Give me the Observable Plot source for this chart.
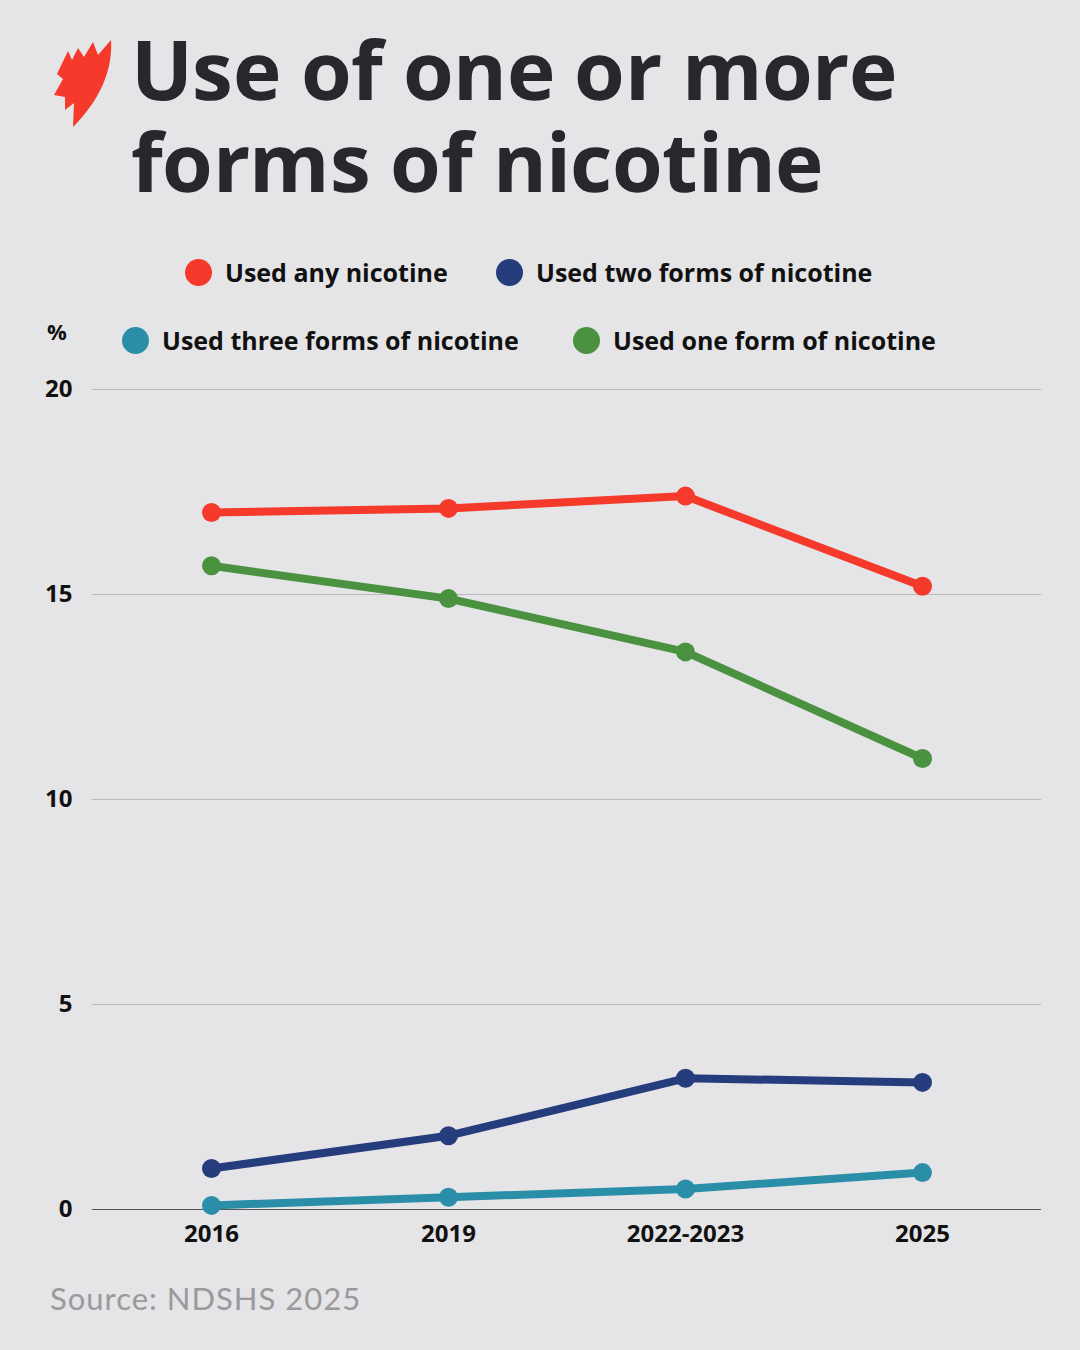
<!DOCTYPE html>
<html>
<head>
<meta charset="utf-8">
<script src="https://cdn.jsdelivr.net/npm/d3@7"></script>
<script src="https://cdn.jsdelivr.net/npm/@observablehq/plot@0.6"></script>
<style>
  @font-face {
    font-family: "TitleSans";
    src: local("Open Sans Bold"), local("OpenSans-Bold"), local("Open Sans");
    font-weight: 700;
    ascent-override: 84%;
    descent-override: 24%;
    line-gap-override: 0%;
  }
  html, body { margin: 0; padding: 0; background: #e5e4e7; }
  body { width: 1080px; height: 1350px; position: relative; overflow: hidden; font-family: "Open Sans", sans-serif; }
  .title { position: absolute; left: 131px; margin: 0; height: 90px; overflow: visible; font-family: "TitleSans", "Open Sans", sans-serif; font-weight: 700; font-size: 82px; line-height: 90px; color: #28272b; letter-spacing: -0.6px; white-space: nowrap; }
  #logo { position: absolute; left: 0; top: 0; }
  .leg { position: absolute; display: flex; align-items: center; font-weight: 700; font-size: 25px; color: #111; white-space: nowrap; }
  .leg span.dot { display: inline-block; width: 27px; height: 27px; border-radius: 50%; margin-right: 13px; }
  #pct { position: absolute; left: 47px; top: 316px; font-weight: 700; font-size: 22px; color: #111; }
  #chart { position: absolute; left: 0; top: 370px; }
  #source { position: absolute; left: 50px; top: 1279px; font-family: Lato, sans-serif; font-size: 31px; letter-spacing: 1px; color: #9a999c; white-space: nowrap; }
  #chart svg text { font-family: "Open Sans", sans-serif; }
  #chart g[aria-label="y-axis tick label"] text, #chart g[aria-label="x-axis tick label"] text { font-weight: 700; fill: #111; }
</style>
</head>
<body>
<svg id="logo" width="130" height="140">
  <path d="M111,40 C113,70 100,100 73,127 L74,103 L65,110 L65,97 L54,95 L63,79 L57,74 L68,51 L72,60 L78,48 L84,57 L93,42 L98,55 Z" fill="#f5392a"/>
</svg>
<div class="title" style="top:31px">Use of one or more</div>
<div class="title" style="top:123px">forms of nicotine</div>
<div id="legend"></div>
<div id="pct">%</div>
<div id="chart"></div>
<div id="source">Source: NDSHS 2025</div>
<script>
const periods = ["2016", "2019", "2022-2023", "2025"];
const seriesNames = ["Used any nicotine", "Used two forms of nicotine", "Used three forms of nicotine", "Used one form of nicotine"];
const seriesColors = ["#f5392a", "#253c7d", "#2b8ea8", "#4a9140"];
const anyNicotine = [17.0, 17.1, 17.4, 15.2];
const twoForms = [1.0, 1.8, 3.2, 3.1];
const threeForms = [0.1, 0.3, 0.5, 0.9];
const oneForm = [15.7, 14.9, 13.6, 11.0];
const yTicks = [0, 5, 10, 15, 20];

const seriesValues = [anyNicotine, twoForms, threeForms, oneForm];
const data = [];
seriesNames.forEach((name, i) => {
  periods.forEach((p, j) => data.push({series: name, period: p, value: seriesValues[i][j]}));
});

// Legend
const legendPos = [
  {left: 185, top: 255}, {left: 496, top: 255},
  {left: 122, top: 323}, {left: 573, top: 323}
];
const legend = document.getElementById("legend");
seriesNames.forEach((name, i) => {
  const d = document.createElement("div");
  d.className = "leg";
  d.style.left = legendPos[i].left + "px";
  d.style.top = legendPos[i].top + "px";
  d.innerHTML = `<span class="dot" style="background:${seriesColors[i]}"></span>${name}`;
  legend.appendChild(d);
});

const chart = Plot.plot({
  width: 1080,
  height: 889,
  marginLeft: 92,
  marginRight: 39,
  marginTop: 19,
  marginBottom: 50,
  style: {background: "transparent", fontSize: "24px", overflow: "visible"},
  x: {type: "point", domain: periods, padding: 0.5, label: null},
  y: {domain: [0, 20], label: null},
  color: {domain: seriesNames, range: seriesColors},
  marks: [
    Plot.ruleY(yTicks.filter(d => d > 0), {stroke: "#b9b8bb", strokeWidth: 1}),
    Plot.ruleY([0], {stroke: "#555", strokeWidth: 1.2}),
    Plot.axisY({ticks: yTicks, tickSize: 0, tickPadding: 20, fontSize: 24, label: null}),
    Plot.axisX({tickSize: 0, tickPadding: 15, fontSize: 24, label: null}),
    Plot.line(data, {x: "period", y: "value", z: "series", stroke: "series", strokeWidth: 8, strokeLinejoin: "round", strokeLinecap: "round"}),
    Plot.dot(data, {x: "period", y: "value", fill: "series", r: 9.5})
  ]
});
document.getElementById("chart").appendChild(chart);
</script>
</body>
</html>
